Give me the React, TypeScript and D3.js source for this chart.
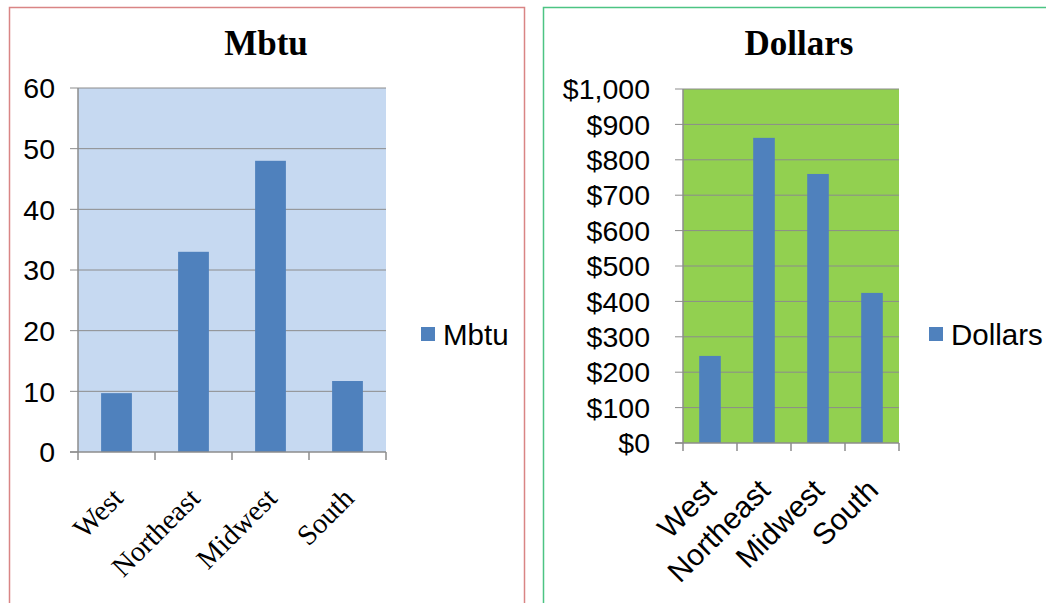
import React from "react";
import * as d3 from "d3";

const categories = ["West", "Northeast", "Midwest", "South"];
const mbtuValues = [9.7, 33, 48, 11.7];
const dollarValues = [246, 862, 760, 424];
const mbtuTicks = [0, 10, 20, 30, 40, 50, 60];
const dollarTicks = [0, 100, 200, 300, 400, 500, 600, 700, 800, 900, 1000];

const SANS = "'Liberation Sans', Arial, sans-serif";
const SERIF = "'Liberation Serif', 'Times New Roman', serif";

type PanelProps = {
  title: string;
  values: number[];
  ticks: number[];
  fmt: (v: number) => string;
  x0: number; x1: number; y0: number; y1: number;
  bg: string;
  tickGap: number;
  labelFont: string;
  labelSize: number;
  labelDx: number;
  labelY: number;
  titleX: number;
  legendX: number;
  legendLabel: string;
};

function Panel(p: PanelProps) {
  const x = d3.scaleBand<string>().domain(categories).range([p.x0, p.x1]).paddingInner(0.6).paddingOuter(0.3);
  const xc = d3.scaleBand<string>().domain(categories).range([p.x0, p.x1]);
  const y = d3.scaleLinear().domain([0, d3.max(p.ticks) as number]).range([p.y1, p.y0]);
  const grid = "#8c8c8c";
  return (
    <g>
      <text x={p.titleX} y={55} textAnchor="middle" fontFamily={SERIF} fontWeight="bold" fontSize={35}>{p.title}</text>
      <rect x={p.x0} y={p.y0} width={p.x1 - p.x0} height={p.y1 - p.y0} fill={p.bg} />
      {p.ticks.map((t) => (
        <g key={t}>
          {t > 0 && <line x1={p.x0} x2={p.x1} y1={y(t)} y2={y(t)} stroke={grid} strokeWidth={1} />}
          <line x1={p.x0 - 8} x2={p.x0} y1={y(t)} y2={y(t)} stroke={grid} strokeWidth={1} />
          <text x={p.x0 - p.tickGap} y={y(t)} dy="0.36em" textAnchor="end" fontFamily={SANS} fontSize={28.5}>{p.fmt(t)}</text>
        </g>
      ))}
      {categories.map((c, i) => (
        <rect key={c} x={x(c)} y={y(p.values[i])} width={x.bandwidth()} height={y(0) - y(p.values[i])} fill="#4f81bd" />
      ))}
      <line x1={p.x0} x2={p.x0} y1={p.y0} y2={p.y1} stroke={grid} strokeWidth={1.5} />
      <line x1={p.x0 - 8} x2={p.x1} y1={p.y1} y2={p.y1} stroke={grid} strokeWidth={1.5} />
      {[...categories.map((c) => xc(c) as number), p.x1].map((v, i) => (
        <line key={i} x1={v} x2={v} y1={p.y1} y2={p.y1 + 8} stroke={grid} strokeWidth={1.5} />
      ))}
      {categories.map((c) => {
        const cx = (xc(c) as number) + xc.bandwidth() / 2 + p.labelDx;
        return (
          <text key={c} transform={`translate(${cx},${p.labelY}) rotate(-45)`} textAnchor="end" fontFamily={p.labelFont} fontSize={p.labelSize}>{c}</text>
        );
      })}
      <rect x={p.legendX} y={327} width={14} height={14} fill="#4f81bd" />
      <text x={p.legendX + 22} y={345} fontFamily={SANS} fontSize={29.5}>{p.legendLabel}</text>
    </g>
  );
}

export default function App() {
  return (
    <svg width={1046} height={603} style={{ position: "absolute", left: 0, top: 0, background: "#fff" }}>
      <rect x={9.5} y={7.5} width={515} height={620} fill="none" stroke="#d98585" strokeWidth={1.5} />
      <rect x={543.5} y={7.5} width={540} height={620} fill="none" stroke="#4cc483" strokeWidth={1.5} />
      <Panel title="Mbtu" values={mbtuValues} ticks={mbtuTicks} fmt={(v) => String(v)}
        x0={78} x1={386} y0={88} y1={452} bg="#c6d9f1" tickGap={23} labelFont={SERIF} labelSize={28.5} labelDx={8} labelY={500}
        titleX={266} legendX={421} legendLabel="Mbtu" />
      <Panel title="Dollars" values={dollarValues} ticks={dollarTicks} fmt={(v) => d3.format("$,")(v)}
        x0={683} x1={899} y0={89} y1={443} bg="#92d050" tickGap={33} labelFont={SANS} labelSize={30} labelDx={8} labelY={492}
        titleX={799} legendX={929} legendLabel="Dollars" />
    </svg>
  );
}
